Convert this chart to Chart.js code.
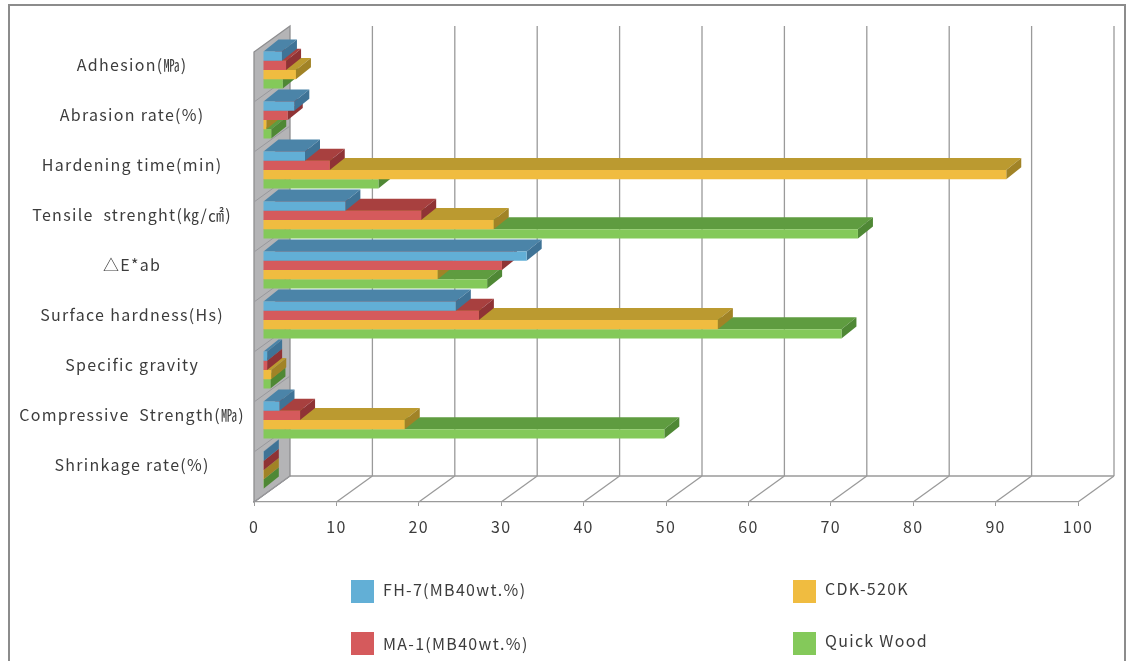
<!DOCTYPE html>
<html>
<head>
<meta charset="utf-8">
<title>Material properties</title>
<style>
    html, body { margin: 0; padding: 0; background: #fff; overflow: hidden; }
    #frame { position: absolute; left: 8px; top: 4px; width: 1114px; height: 700px; border: 2px solid #8c8c8c; }
    #chart { position: absolute; left: 0; top: 0; }
</style>
<script src="https://cdn.jsdelivr.net/npm/chart.js@4"></script>
</head>
<body>
<div id="frame"></div>
<canvas id="chart" width="1126" height="661"></canvas>
<script>
const categories = [
    'Adhesion(㎫)',
    'Abrasion rate(%)',
    'Hardening time(min)',
    'Tensile  strenght(㎏/㎠)',
    '△E*ab',
    'Surface hardness(Hs)',
    'Specific gravity',
    'Compressive  Strength(㎫)',
    'Shrinkage rate(%)'
];

const seriesNames = ['FH-7(MB40wt.%)', 'MA-1(MB40wt.%)', 'CDK-520K', 'Quick Wood'];

const fh7Values = [2.3, 3.8, 5.1, 10, 32, 23.4, 0.5, 2, 0.1];
const ma1Values = [2.8, 3, 8.1, 19.2, 29, 26.2, 0.5, 4.5, 0.1];
const cdkValues = [4, 0.4, 90.2, 28, 21.2, 55.2, 1, 17.2, 0.1];
const quickValues = [2.4, 1, 14, 72.2, 27.2, 70.2, 0.9, 48.7, 0.1];

const frontColors = ['#62afd6', '#d55a5c', '#f0bc40', '#84c95a'];
const topColors = ['#4b84a8', '#a8403f', '#bb9a30', '#5f9c40'];
const endColors = ['#3f7396', '#8f3335', '#a18326', '#4f8835'];

// 3D look: floor depth and where the bars sit inside it
const DEPTH_X = 36, DEPTH_Y = -26;
const BAR_SHIFT_X = 9, BAR_SHIFT_Y = -7;
const BAR_DEPTH_X = 15, BAR_DEPTH_Y = -12;
const LINE_COLOR = '#9a9a9a';
const TEXT_COLOR = '#3c3c3c';
const FONT_FAMILY = '"Noto Sans CJK KR", "Noto Sans", sans-serif';

function poly(ctx, points, fill, stroke) {
    ctx.beginPath();
    points.forEach((p, i) => i ? ctx.lineTo(p[0], p[1]) : ctx.moveTo(p[0], p[1]));
    ctx.closePath();
    if (fill) { ctx.fillStyle = fill; ctx.fill(); }
    if (stroke) { ctx.strokeStyle = stroke; ctx.stroke(); }
}

function seg(ctx, x1, y1, x2, y2) {
    ctx.beginPath();
    ctx.moveTo(x1, y1);
    ctx.lineTo(x2, y2);
    ctx.stroke();
}

// the original text is spaced out wider than these fonts
const spacingPlugin = {
    id: 'spacing',
    beforeUpdate(chart) {
        chart.ctx.letterSpacing = '1.3px';
    }
};

// back wall grid, floor and the grey left wall
const roomPlugin = {
    id: 'room',
    beforeDatasetsDraw(chart) {
        const { ctx, chartArea: area, scales } = chart;
        const xs = scales.x, ys = scales.y;
        ctx.save();
        ctx.lineWidth = 1.3;
        ctx.strokeStyle = LINE_COLOR;
        xs.ticks.forEach(t => {
            const x = xs.getPixelForValue(t.value);
            seg(ctx, x, area.bottom, x + DEPTH_X, area.bottom + DEPTH_Y);
            if (t.value > 0) seg(ctx, x + DEPTH_X, area.top + DEPTH_Y, x + DEPTH_X, area.bottom + DEPTH_Y);
        });
        seg(ctx, area.left + DEPTH_X, area.bottom + DEPTH_Y, area.right + DEPTH_X, area.bottom + DEPTH_Y);
        poly(ctx, [
            [area.left, area.top],
            [area.left + DEPTH_X, area.top + DEPTH_Y],
            [area.left + DEPTH_X, area.bottom + DEPTH_Y],
            [area.left, area.bottom]
        ], '#b4b4b6', '#8e8e90');
        ctx.strokeStyle = '#98989c';
        ctx.lineWidth = 1;
        categories.forEach((c, i) => {
            const y = ys.getPixelForValue(i) + ys.height / categories.length / 2;
            seg(ctx, area.left, y, area.left + DEPTH_X, y + DEPTH_Y);
        });
        ctx.restore();
    }
};

// side faces are drawn first, the library then paints the front of each bar
const barDepthPlugin = {
    id: 'barDepth',
    beforeDatasetDraw(chart, args) {
        const { ctx } = chart;
        ctx.save();
        ctx.translate(BAR_SHIFT_X, BAR_SHIFT_Y);
        args.meta.data.forEach(bar => {
            const top = bar.y - bar.height / 2;
            const bottom = bar.y + bar.height / 2;
            poly(ctx, [
                [bar.base, top],
                [bar.x, top],
                [bar.x + BAR_DEPTH_X, top + BAR_DEPTH_Y],
                [bar.base + BAR_DEPTH_X, top + BAR_DEPTH_Y]
            ], topColors[args.index]);
            poly(ctx, [
                [bar.x, top],
                [bar.x + BAR_DEPTH_X, top + BAR_DEPTH_Y],
                [bar.x + BAR_DEPTH_X, bottom + BAR_DEPTH_Y],
                [bar.x, bottom]
            ], endColors[args.index]);
        });
    },
    afterDatasetDraw(chart) {
        chart.ctx.restore();
    }
};

// two by two legend, wide apart like the original
const legendPlugin = {
    id: 'wideLegend',
    afterDraw(chart) {
        const { ctx } = chart;
        const cols = [351, 793];
        const rows = [580, 632];
        ctx.save();
        ctx.font = '16px ' + FONT_FAMILY;
        ctx.textBaseline = 'middle';
        chart.data.datasets.forEach((ds, i) => {
            const x = cols[i > 1 ? 1 : 0];
            const y = rows[i % 2];
            ctx.fillStyle = ds.backgroundColor;
            ctx.fillRect(x, y, 23, 23);
            ctx.fillStyle = TEXT_COLOR;
            ctx.fillText(ds.label, x + 32, y + (i > 1 ? 9 : i === 0 ? 10 : 12));
        });
        ctx.restore();
    }
};

const allValues = [fh7Values, ma1Values, cdkValues, quickValues];

new Chart(document.getElementById('chart'), {
    type: 'bar',
    data: {
        labels: categories,
        datasets: seriesNames.map((name, i) => ({
            label: name,
            data: allValues[i],
            backgroundColor: frontColors[i],
            categoryPercentage: 0.74,
            barPercentage: 1,
            clip: false
        }))
    },
    options: {
        indexAxis: 'y',
        responsive: false,
        animation: false,
        layout: { padding: { top: 52, right: 48, left: 0, bottom: 0 } },
        plugins: {
            legend: { display: false },
            tooltip: { enabled: false }
        },
        scales: {
            x: {
                min: 0,
                max: 100,
                afterFit: s => { s.height = 159; },
                border: { color: LINE_COLOR, width: 1.3 },
                grid: { drawOnChartArea: false, tickLength: 4, color: LINE_COLOR },
                ticks: {
                    stepSize: 10,
                    maxRotation: 0,
                    padding: 11,
                    color: TEXT_COLOR,
                    font: { family: FONT_FAMILY, size: 16 }
                }
            },
            y: {
                afterFit: s => { s.width = 254; },
                border: { display: false },
                grid: { display: false },
                ticks: {
                    autoSkip: false,
                    crossAlign: 'center',
                    padding: 1,
                    labelOffset: -12,
                    color: TEXT_COLOR,
                    font: { family: FONT_FAMILY, size: 16 }
                }
            }
        }
    },
    plugins: [spacingPlugin, roomPlugin, barDepthPlugin, legendPlugin]
});
</script>
</body>
</html>
